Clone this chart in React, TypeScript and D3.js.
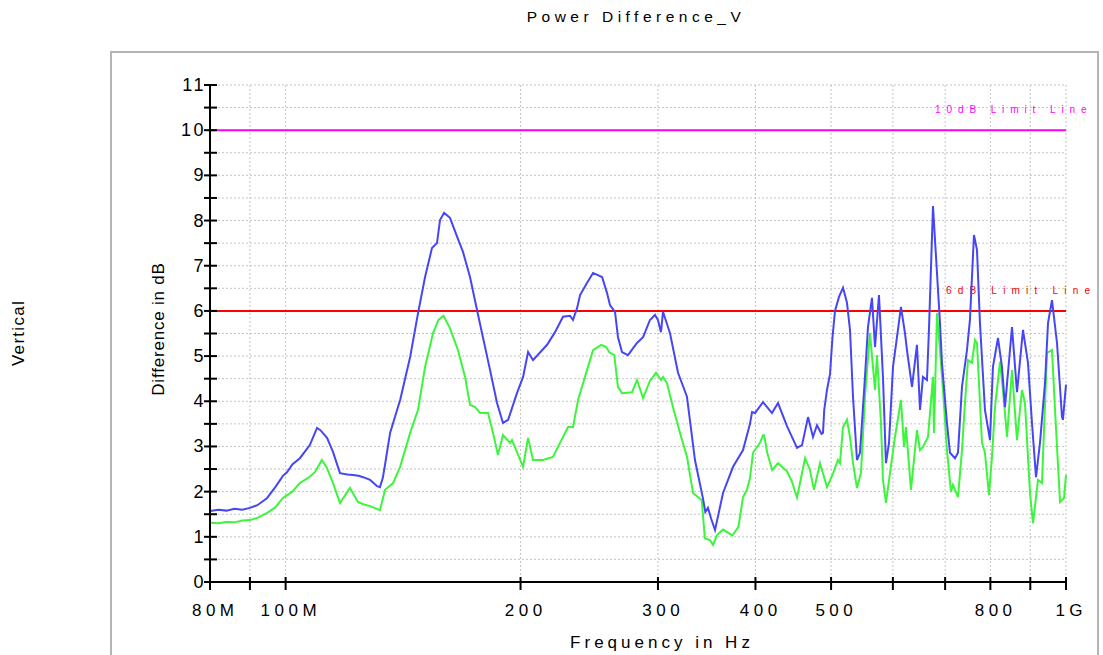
import React from "react";
import * as d3 from "d3";

// frequency in MHz, difference in dB
const blueTrace: [number, number][] = [
  [80, 1.57], [82, 1.6], [84, 1.58], [86, 1.62], [88, 1.6], [90, 1.64], [92, 1.7],
  [94.7, 1.86], [97, 2.1], [99.2, 2.35], [100.4, 2.43], [102, 2.6], [104.3, 2.74],
  [107.4, 3.03], [109.7, 3.41], [110.8, 3.36], [113, 3.19], [115, 2.88], [117.4, 2.41],
  [120, 2.38], [122, 2.37], [124, 2.35], [125.7, 2.32], [128.3, 2.26], [131, 2.12],
  [132.1, 2.1], [133.2, 2.3], [134.1, 2.6], [136.1, 3.3], [140.2, 4.03], [144.4, 4.98],
  [147.8, 5.95], [150.9, 6.75], [154, 7.39], [156.3, 7.5], [157.7, 8.01], [159.6, 8.17],
  [162.4, 8.06], [165.8, 7.65], [168.8, 7.3], [172.3, 6.75], [175.9, 6.02], [178.5, 5.51],
  [182.8, 4.69], [186.6, 3.96], [189.9, 3.52], [192.8, 3.59], [197.9, 4.18], [201.5, 4.54],
  [204.5, 5.09], [207.5, 4.91], [216.3, 5.25], [221.4, 5.53], [226.7, 5.87], [231.4, 5.89],
  [233.5, 5.8], [236.3, 6.06], [238.4, 6.35], [243.3, 6.62], [247.7, 6.84], [254.4, 6.75],
  [258.1, 6.4], [260.4, 6.13], [264.3, 5.98], [266.6, 5.42], [269.8, 5.09], [274.6, 5.02],
  [282, 5.29], [287.1, 5.42], [293, 5.8], [297.4, 5.91], [300, 5.8], [302.7, 5.53],
  [304.5, 5.98], [310.9, 5.5], [318.3, 4.63], [326.8, 4.1], [334.6, 2.7], [342.6, 1.85],
  [345, 1.55], [347.7, 1.64], [351, 1.4], [355, 1.15], [363.5, 1.97], [374.4, 2.55],
  [385.6, 2.92], [393.6, 3.5], [396, 3.76], [399.5, 3.74], [409, 3.98], [420, 3.74],
  [427.5, 3.96], [439, 3.45], [452.2, 2.97], [458.9, 3.03], [467.1, 3.65], [474, 3.21],
  [479.6, 3.47], [486, 3.28], [488.2, 3.3], [490, 3.81], [494, 4.25], [498.4, 4.6],
  [502, 5.4], [505.8, 6.0], [511.8, 6.31], [517.9, 6.51], [524, 6.18], [528.7, 5.58],
  [533.4, 4.1], [539.7, 2.7], [544.5, 2.86], [552.6, 4.54], [557.5, 5.64], [564.1, 6.29],
  [569.2, 5.2], [575.9, 6.35], [582.7, 4.54], [587.9, 2.63], [593.2, 3.08], [600.2, 4.76],
  [607.3, 5.42], [614.5, 6.09], [621.8, 5.51], [625.5, 5.13], [634.8, 4.32], [644.2, 5.25],
  [650, 3.81], [655.7, 4.54], [663.5, 4.47], [667.4, 5.58], [675.4, 8.32], [683.4, 6.84],
  [689.5, 5.73], [693.5, 4.85], [703.8, 3.52], [710.1, 2.86], [720.7, 2.74], [727.1, 2.86],
  [735.7, 4.32], [746.6, 5.13], [753.2, 5.8], [762.2, 7.68], [769, 7.35], [775.8, 5.73],
  [787.3, 3.81], [799.1, 3.14], [806.1, 4.76], [818.2, 5.4], [827.9, 4.76], [835.2, 3.87],
  [852.7, 5.64], [865.4, 4.2], [880.8, 5.58], [893.9, 4.85], [904.5, 3.52], [915.3, 2.32],
  [926.1, 3.08], [939.9, 4.4], [948.3, 5.73], [959.5, 6.24], [973.8, 5.29], [988.3, 3.65],
  [991, 3.59], [1000, 4.37],
];

const greenTrace: [number, number][] = [
  [80, 1.31], [82, 1.3], [84, 1.33], [86, 1.32], [88, 1.36], [90, 1.37], [92, 1.42],
  [94.7, 1.53], [97, 1.65], [99.2, 1.86], [102, 2.0], [104.3, 2.19], [107.4, 2.33],
  [109, 2.43], [111.3, 2.7], [113, 2.52], [115, 2.19], [117.4, 1.75], [120.9, 2.08],
  [123.8, 1.77], [125.7, 1.72], [128.3, 1.68], [132.1, 1.59], [134.1, 2.04], [137.3, 2.19],
  [140.2, 2.55], [144.4, 3.3], [147.8, 3.81], [150.9, 4.76], [154.5, 5.51], [157, 5.8],
  [159.3, 5.89], [162.4, 5.62], [166.3, 5.13], [169.8, 4.54], [172.3, 3.92], [174.9, 3.87],
  [177.5, 3.74], [181.7, 3.74], [184.4, 3.3], [187.1, 2.81], [189.9, 3.25], [193.9, 3.08],
  [195, 3.14], [201.5, 2.55], [204.5, 3.19], [207.5, 2.7], [213.7, 2.7], [220.1, 2.77],
  [224.7, 3.08], [230.1, 3.43], [233.5, 3.43], [237, 4.03], [241.9, 4.54], [247.7, 5.13],
  [253.8, 5.25], [257.5, 5.2], [259.8, 5.09], [263.7, 5.02], [266.6, 4.32], [269.8, 4.18],
  [277.9, 4.2], [282, 4.47], [287.1, 4.07], [293, 4.45], [298.3, 4.63], [302.7, 4.47],
  [304.5, 4.54], [308.1, 4.4], [313.6, 3.87], [320.2, 3.3], [326.8, 2.77], [332.7, 1.97],
  [341.4, 1.81], [344.5, 0.97], [349.8, 0.93], [352.9, 0.82], [357.1, 1.04], [363.5, 1.16],
  [373.7, 1.03], [380.4, 1.22], [385.6, 1.88], [390.1, 2.04], [393.6, 2.3], [397.1, 2.86],
  [405.4, 3.08], [409, 3.25], [410.4, 3.25], [414.1, 2.86], [420.3, 2.48], [427.5, 2.63],
  [439, 2.45], [445.5, 2.22], [452.2, 1.87], [456.2, 2.19], [463, 2.74], [469.8, 2.48],
  [475.4, 2.04], [483.9, 2.63], [494, 2.1], [502.8, 2.4], [510.3, 2.7], [513.3, 2.63],
  [517.9, 3.43], [524, 3.59], [528.7, 3.21], [533.4, 2.63], [539.7, 2.08], [546.1, 2.41],
  [552.6, 4.1], [560.8, 5.51], [569.2, 4.25], [572.5, 5.02], [579.3, 3.52], [582.7, 2.26],
  [587.9, 1.75], [594.9, 2.41], [603.7, 3.21], [614.5, 4.03], [620, 2.99], [623.6, 3.43],
  [632.9, 2.04], [644.2, 3.36], [650, 2.92], [655.7, 2.99], [665.5, 3.21], [675.4, 4.54],
  [677.4, 3.3], [683.4, 5.95], [689.5, 5.13], [695.6, 4.25], [703.8, 2.92], [712.2, 1.99],
  [716.4, 2.15], [727.1, 1.88], [735.7, 2.92], [742.2, 3.96], [748.8, 4.91], [757.7, 4.85],
  [764.5, 5.36], [769, 5.29], [780.4, 3.08], [787.3, 2.86], [796.7, 1.93], [803.8, 2.77],
  [811, 3.87], [823, 4.87], [830.3, 4.25], [840.2, 3.21], [852.7, 4.69], [865.4, 3.14],
  [878.2, 4.25], [886, 3.96], [899.2, 1.97], [907.2, 1.3], [920.7, 2.26], [931.6, 2.19],
  [945.4, 5.07], [959.5, 5.13], [968.1, 3.81], [982.5, 1.77], [994.2, 1.86], [1000, 2.37],
];

const xTicks = [80, 90, 100, 200, 300, 400, 500, 600, 700, 800, 900, 1000];
const xTickLabels = ["80M", "", "100M", "200", "300", "400", "500", "", "", "800", "", "1G"];
const yMajor = d3.range(0, 12);
const yMinor = d3.range(0.5, 11, 1);
const limits = [
  { value: 10, label: "10dB Limit Line", color: "#ff00ff" },
  { value: 6, label: "6dB Limit Line", color: "#ff0000" },
];

const font = "'Liberation Sans', Arial, sans-serif";

export default function App() {
  const width = 1103;
  const height = 655;
  const x = d3.scaleLog().domain([80, 1000]).range([210, 1066]);
  const y = d3.scaleLinear().domain([0, 11]).range([582, 85]);
  const line = d3
    .line<[number, number]>()
    .x(d => x(d[0]))
    .y(d => y(d[1]));

  const [x0, x1] = x.range();
  const gridY = d3.range(0.5, 11.01, 0.5);
  const xSpacing = 4.5;

  return (
    <svg
      width={width}
      height={height}
      style={{ position: "absolute", left: 0, top: 0, display: "block", background: "#fff" }}
      fontFamily={font}
    >
      {/* outer frame */}
      <rect x={111} y={52} width={987} height={610} fill="none" stroke="#b4b4b4" strokeWidth={2} />

      <text x={636} y={22} textAnchor="middle" fontSize={15.5} letterSpacing={4.5}>
        Power Difference_V
      </text>

      <text transform="translate(24,333) rotate(-90)" textAnchor="middle" fontSize={17} letterSpacing={1.3}>
        Vertical
      </text>

      {/* grid */}
      <g stroke="#c4c4c4" strokeWidth={1} strokeDasharray="2,2">
        {gridY.map(v => (
          <line key={"h" + v} x1={x0} x2={x1} y1={y(v)} y2={y(v)} />
        ))}
        {xTicks.slice(1).map(t => (
          <line key={"v" + t} x1={x(t)} x2={x(t)} y1={y(11)} y2={y(0)} />
        ))}
      </g>

      {/* limit lines */}
      {limits.map(l => (
        <g key={l.label}>
          <line x1={x0} x2={x1} y1={y(l.value)} y2={y(l.value)} stroke={l.color} strokeWidth={2} />
          <text
            x={l.value === 10 ? 935 : 946}
            y={y(l.value) - 17}
            fontSize={10}
            letterSpacing={l.value === 10 ? 5.9 : 6.2}
            fill={l.color}
          >
            {l.label}
          </text>
        </g>
      ))}

      {/* traces */}
      <path d={line(greenTrace) ?? ""} fill="none" stroke="#3cf53c" strokeWidth={2} />
      <path d={line(blueTrace) ?? ""} fill="none" stroke="#4646f5" strokeWidth={2} />

      {/* y axis */}
      <g stroke="#000">
        <line x1={x0} x2={x0} y1={y(11)} y2={y(0)} strokeWidth={2} />
        {yMajor.map(t => (
          <line key={"ym" + t} x1={x0 - 6} x2={x0 + 7} y1={y(t)} y2={y(t)} strokeWidth={2} />
        ))}
        {yMinor.map(t => (
          <line key={"yn" + t} x1={x0 - 6} x2={x0 + 7} y1={y(t)} y2={y(t)} strokeWidth={2} />
        ))}
      </g>
      {yMajor.map(t => (
        <text key={"yl" + t} x={206} y={y(t) + 6} textAnchor="end" fontSize={18} letterSpacing={2.5}>
          {t}
        </text>
      ))}
      <text transform="translate(164,329) rotate(-90)" textAnchor="middle" fontSize={17} letterSpacing={0.8}>
        Difference in dB
      </text>

      {/* x axis */}
      <g stroke="#000">
        <line x1={x0} x2={x1} y1={y(0)} y2={y(0)} strokeWidth={2} />
        {xTicks.map(t => (
          <line key={"xt" + t} x1={x(t)} x2={x(t)} y1={y(0) - 5} y2={y(0) + 8} strokeWidth={2} />
        ))}
      </g>
      {xTicks.map((t, i) =>
        xTickLabels[i] ? (
          <text
            key={"xl" + t}
            x={x(t) + 3 + xSpacing / 2}
            y={616}
            textAnchor="middle"
            fontSize={17}
            letterSpacing={xSpacing}
          >
            {xTickLabels[i]}
          </text>
        ) : null
      )}
      <text x={662} y={648} textAnchor="middle" fontSize={17} letterSpacing={4}>
        Frequency in Hz
      </text>
    </svg>
  );
}
